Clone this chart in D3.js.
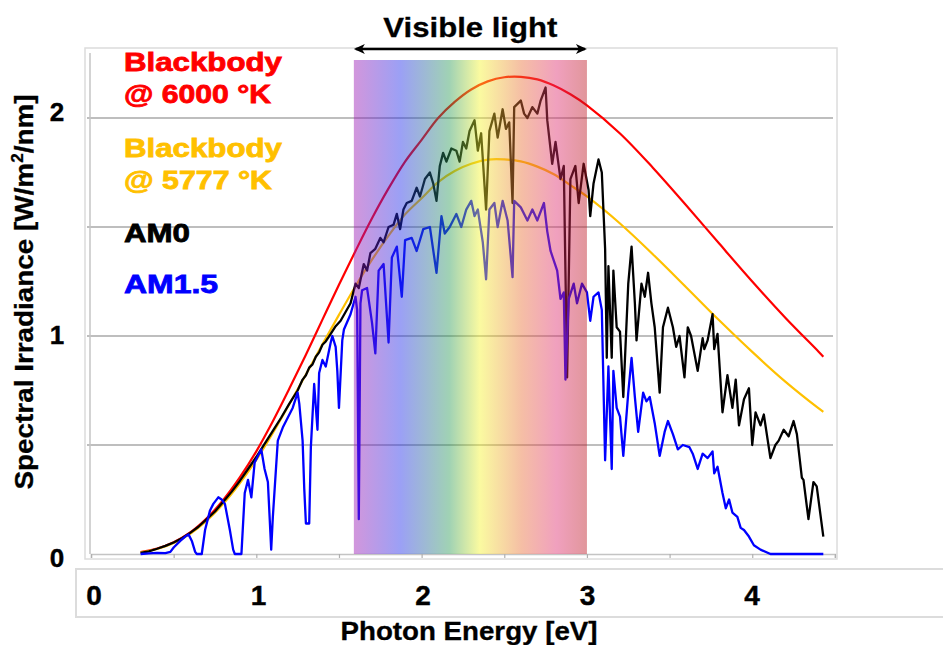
<!DOCTYPE html>
<html><head><meta charset="utf-8">
<script src="https://cdn.jsdelivr.net/npm/d3@7"></script>
<style>
html,body{margin:0;padding:0;background:#fff;}
svg{display:block;}
text{font-family:"Liberation Sans",Arial,sans-serif;font-weight:bold;}
</style></head><body>
<svg id="chart" width="943" height="645"></svg>
<script>
// ---------------- DATA ----------------
const bbEnergy = [0.3,0.4,0.5,0.6,0.7,0.8,0.9,1.0,1.1,1.2,1.3,1.4,1.5,1.6,1.7,1.8,1.9,2.0,2.1,2.2,2.3,2.4,2.5,2.6,2.7,2.8,2.9,3.0,3.2,3.4,3.6,3.8,4.0,4.2,4.4,4.43];
const bb6000 = [0.009,0.025,0.054,0.099,0.164,0.248,0.351,0.471,0.609,0.759,0.914,1.075,1.235,1.39,1.54,1.677,1.80,1.90,2.00,2.074,2.131,2.168,2.187,2.189,2.177,2.149,2.109,2.058,1.929,1.771,1.60,1.424,1.25,1.084,0.929,0.905];
const bb5777 = [0.008,0.023,0.051,0.093,0.153,0.230,0.324,0.432,0.555,0.688,0.823,0.962,1.097,1.228,1.35,1.46,1.558,1.632,1.706,1.757,1.790,1.809,1.810,1.801,1.777,1.742,1.692,1.640,1.516,1.374,1.224,1.072,0.927,0.791,0.669,0.652];

const am0Energy = [0.30,0.35,0.40,0.45,0.50,0.55,0.60,0.65,0.70,0.75,0.80,0.85,0.90,0.95,1.00,1.05,1.10,1.15,1.20,1.25,1.28,1.30,1.32,1.34,1.36,1.38,1.40,1.42,1.45,1.48,1.51,1.54,1.57,1.60,1.62,1.65,1.67,1.69,1.72,1.75,1.77,1.80,1.83,1.85,1.87,1.89,1.91,1.94,1.97,1.99,2.02,2.05,2.07,2.09,2.11,2.13,2.15,2.18,2.21,2.23,2.25,2.27,2.29,2.32,2.34,2.36,2.39,2.41,2.44,2.46,2.49,2.51,2.53,2.55,2.56,2.60,2.62,2.64,2.67,2.70,2.72,2.75,2.76,2.79,2.81,2.84,2.86,2.88,2.90,2.93,2.95,2.98,3.01,3.02,3.04,3.07,3.09,3.11,3.12,3.13,3.15,3.16,3.18,3.20,3.22,3.25,3.27,3.29,3.30,3.33,3.35,3.37,3.39,3.41,3.44,3.46,3.49,3.52,3.54,3.56,3.59,3.61,3.63,3.67,3.70,3.71,3.73,3.76,3.77,3.79,3.82,3.85,3.88,3.90,3.92,3.95,3.98,4.00,4.02,4.05,4.07,4.11,4.14,4.16,4.19,4.22,4.25,4.27,4.30,4.31,4.34,4.37,4.39,4.43];
const am0 = [0.005,0.012,0.024,0.037,0.053,0.072,0.097,0.125,0.160,0.195,0.240,0.285,0.335,0.390,0.445,0.505,0.565,0.625,0.690,0.750,0.800,0.820,0.855,0.870,0.905,0.925,0.960,0.975,1.010,1.045,1.070,1.110,1.150,1.240,1.220,1.330,1.300,1.380,1.400,1.450,1.430,1.500,1.510,1.560,1.490,1.580,1.610,1.620,1.680,1.640,1.720,1.750,1.700,1.620,1.780,1.840,1.800,1.860,1.850,1.800,1.890,1.860,1.940,1.990,1.850,1.930,1.580,1.940,2.020,1.910,2.040,1.950,1.980,1.610,2.050,2.080,2.020,2.000,2.050,2.020,2.080,2.140,1.990,1.790,1.890,1.720,1.780,0.810,1.720,1.780,1.610,1.790,1.670,1.550,1.700,1.810,1.750,1.400,0.900,1.320,0.900,1.300,1.040,1.020,0.720,1.240,1.410,1.150,0.980,1.240,1.180,1.290,1.150,1.040,0.740,1.040,1.130,1.040,0.950,1.000,0.810,1.040,1.000,0.840,0.990,0.940,0.980,1.100,0.940,1.010,0.650,0.820,0.670,0.800,0.590,0.710,0.760,0.500,0.650,0.590,0.640,0.440,0.500,0.520,0.570,0.540,0.610,0.550,0.350,0.340,0.160,0.330,0.310,0.080];

const am15Energy = [0.30,0.35,0.40,0.45,0.48,0.50,0.54,0.57,0.59,0.61,0.63,0.64,0.67,0.69,0.72,0.74,0.77,0.79,0.81,0.84,0.86,0.87,0.91,0.93,0.95,0.97,0.99,1.01,1.03,1.05,1.07,1.085,1.09,1.10,1.13,1.16,1.18,1.22,1.25,1.26,1.28,1.29,1.30,1.32,1.33,1.35,1.37,1.38,1.40,1.42,1.45,1.46,1.48,1.49,1.50,1.52,1.53,1.57,1.60,1.61,1.62,1.63,1.64,1.67,1.70,1.72,1.74,1.77,1.80,1.82,1.85,1.88,1.90,1.94,1.97,2.01,2.05,2.09,2.12,2.14,2.17,2.21,2.24,2.27,2.30,2.32,2.34,2.37,2.39,2.41,2.44,2.46,2.49,2.52,2.55,2.56,2.60,2.64,2.67,2.70,2.74,2.76,2.78,2.82,2.84,2.86,2.87,2.89,2.92,2.94,2.97,3.00,3.02,3.04,3.07,3.09,3.11,3.13,3.15,3.16,3.18,3.20,3.22,3.25,3.27,3.29,3.31,3.34,3.36,3.38,3.41,3.44,3.47,3.49,3.52,3.55,3.58,3.62,3.64,3.67,3.70,3.73,3.76,3.77,3.79,3.82,3.84,3.86,3.88,3.91,3.93,3.95,3.98,4.01,4.05,4.11,4.43];
const am15 = [0.000,0.003,0.005,0.004,0.010,0.030,0.060,0.080,0.090,0.060,0.010,0.000,0.000,0.110,0.200,0.230,0.260,0.250,0.230,0.110,0.020,0.000,0.000,0.280,0.340,0.260,0.420,0.450,0.480,0.390,0.330,0.100,0.020,0.170,0.520,0.580,0.610,0.670,0.740,0.690,0.520,0.300,0.140,0.140,0.490,0.780,0.570,0.830,0.890,0.860,0.970,1.000,0.950,0.840,0.670,0.980,1.030,1.100,1.180,1.120,0.160,1.150,1.210,1.220,1.060,0.920,1.300,1.330,0.970,1.360,1.410,1.180,1.440,1.450,1.390,1.490,1.500,1.290,1.550,1.470,1.500,1.560,1.500,1.580,1.620,1.550,1.580,1.430,1.260,1.580,1.610,1.500,1.620,1.530,1.270,1.620,1.590,1.530,1.580,1.530,1.610,1.480,1.390,1.300,1.170,1.200,0.800,1.170,1.240,1.150,1.240,1.200,1.070,1.180,1.200,1.120,0.430,0.860,0.390,0.840,0.670,0.630,0.450,0.740,0.900,0.720,0.560,0.740,0.700,0.720,0.600,0.450,0.560,0.610,0.550,0.480,0.500,0.490,0.460,0.390,0.460,0.440,0.470,0.370,0.400,0.280,0.210,0.250,0.190,0.170,0.120,0.110,0.080,0.040,0.020,0.000,0.000];

const gridValues = [0.5, 1, 1.5, 2];
const yTickLabels = [0, 1, 2];
const xMinorTicks = [0, 0.5, 1, 1.5, 2, 2.5, 3, 3.5, 4, 4.5];
const xTickLabels = [0, 1, 2, 3, 4];
const visibleRange = [1.59, 3.0];
const legendLines = ["Blackbody", "@ 6000 °K", "Blackbody", "@ 5777 °K", "AM0", "AM1.5"];
const titleText = "Visible light";
const xTitle = "Photon Energy [eV]";

// ---------------- DRAW ----------------
const svg = d3.select("#chart");

const x = d3.scaleLinear().domain([0, 4.5]).range([91, 834.9]);
const y = d3.scaleLinear().domain([0, 2.3]).range([554, 52.6]);
const xLab = d3.scaleLinear().domain([0, 4]).range([94, 752]);
const yLab = d3.scaleLinear().domain([0, 2]).range([567, 121]);

// outer plot frame
svg.append("rect").attr("x", 85).attr("y", 48).attr("width", 752).attr("height", 511)
  .attr("fill", "none").attr("stroke", "#dcdcdc").attr("stroke-width", 1.5);

// gridlines
svg.append("g").selectAll("line").data(gridValues).join("line")
  .attr("x1", 87).attr("x2", 833)
  .attr("y1", d => y(d)).attr("y2", d => y(d))
  .attr("stroke", "#a8a8a8").attr("stroke-width", 1.3);

// inner axes
svg.append("line").attr("x1", 90).attr("x2", 90).attr("y1", 53).attr("y2", y(0))
  .attr("stroke", "#c4c4c4").attr("stroke-width", 1.5);
const xAxis = d3.axisBottom(x).tickValues(xMinorTicks).tickSize(4).tickFormat("");
const gx = svg.append("g").attr("transform", `translate(0,${y(0)})`).call(xAxis);
gx.select(".domain").attr("stroke", "#c4c4c4").attr("stroke-width", 1.5);
gx.selectAll(".tick line").attr("stroke", "#b0b0b0").attr("stroke-width", 1.2);

// y tick labels
svg.append("g").selectAll("text").data(yTickLabels).join("text")
  .attr("x", 57).attr("y", d => yLab(d)).attr("text-anchor", "middle")
  .attr("font-size", 26).attr("fill", "#000").attr("stroke", "#000").attr("stroke-width", 0.4)
  .text(d => d);

// curves
const line = (xs, ys, curve) => d3.line().x((d, i) => x(xs[i])).y(d => y(d)).curve(curve)(ys);
const curves = [
  {xs: bbEnergy, ys: bb6000, color: "#ff0000", curve: d3.curveCatmullRom, w: 2.2},
  {xs: bbEnergy, ys: bb5777, color: "#ffc000", curve: d3.curveCatmullRom, w: 2.2},
  {xs: am0Energy, ys: am0, color: "#000000", curve: d3.curveLinear, w: 2.3},
  {xs: am15Energy, ys: am15, color: "#0000ff", curve: d3.curveLinear, w: 2.3}
];
svg.append("g").selectAll("path").data(curves).join("path")
  .attr("d", c => line(c.xs, c.ys, c.curve))
  .attr("fill", "none").attr("stroke", c => c.color).attr("stroke-width", c => c.w)
  .attr("stroke-linejoin", "round");

// visible band (semi-transparent overlay)
const defs = svg.append("defs");
const grad = defs.append("linearGradient").attr("id", "vis").attr("x1", "0%").attr("x2", "100%");
const stops = [[0, "#9b16b1"], [0.2, "#212ce9"], [0.41, "#2c9b58"], [0.54, "#f4f42c"], [0.72, "#e96f37"], [0.87, "#de2c6f"], [1, "#bc1621"]];
stops.forEach(s => grad.append("stop").attr("offset", s[0]).attr("stop-color", s[1]));
svg.append("rect").attr("x", x(visibleRange[0])).attr("y", 60)
  .attr("width", x(visibleRange[1]) - x(visibleRange[0])).attr("height", y(0) - 60)
  .attr("fill", "url(#vis)").attr("opacity", 0.45);

// arrow
const ay = 49;
const x0 = x(visibleRange[0]), x1 = x(visibleRange[1]);
svg.append("line").attr("x1", x0 + 2).attr("x2", x1 - 2).attr("y1", ay).attr("y2", ay)
  .attr("stroke", "#000").attr("stroke-width", 2.5);
svg.append("path").attr("d", `M${x0},${ay} L${x0 + 11},${ay - 5} L${x0 + 8},${ay} L${x0 + 11},${ay + 5} Z`).attr("fill", "#000");
svg.append("path").attr("d", `M${x1},${ay} L${x1 - 11},${ay - 5} L${x1 - 8},${ay} L${x1 - 11},${ay + 5} Z`).attr("fill", "#000");
svg.append("text").attr("x", (x0 + x1) / 2).attr("y", 37).attr("text-anchor", "middle")
  .attr("font-size", 28).attr("textLength", 174).attr("lengthAdjust", "spacingAndGlyphs")
  .attr("fill", "#000").attr("stroke", "#000").attr("stroke-width", 0.3).text(titleText);

// legend
const legColors = ["#ff0000", "#ff0000", "#ffc000", "#ffc000", "#000000", "#0000ff"];
const legY = [71, 103, 157, 189, 242, 293];
const legW = [158, 147, 158, 148, 66, 94];
svg.append("g").selectAll("text").data(legendLines).join("text")
  .attr("x", 124).attr("y", (d, i) => legY[i])
  .attr("font-size", 25.5).attr("fill", (d, i) => legColors[i])
  .attr("stroke", (d, i) => legColors[i]).attr("stroke-width", 0.8)
  .attr("textLength", (d, i) => legW[i]).attr("lengthAdjust", "spacingAndGlyphs")
  .text(d => d);

// lower axis band
svg.append("path").attr("d", "M943,569 H76 V617 H943")
  .attr("fill", "none").attr("stroke", "#dcdcdc").attr("stroke-width", 2);
svg.append("g").selectAll("text").data(xTickLabels).join("text")
  .attr("x", d => xLab(d)).attr("y", 605).attr("text-anchor", "middle")
  .attr("font-size", 28).attr("fill", "#000").attr("stroke", "#000").attr("stroke-width", 0.4)
  .text(d => d);

// axis titles
svg.append("text").attr("x", 469).attr("y", 640).attr("text-anchor", "middle")
  .attr("font-size", 26).attr("textLength", 257).attr("lengthAdjust", "spacingAndGlyphs")
  .attr("fill", "#000").attr("stroke", "#000").attr("stroke-width", 0.3).text(xTitle);

const yt = svg.append("text").attr("transform", "translate(33,292) rotate(-90)")
  .attr("text-anchor", "middle").attr("font-size", 26)
  .attr("textLength", 395).attr("lengthAdjust", "spacingAndGlyphs")
  .attr("fill", "#000").attr("stroke", "#000").attr("stroke-width", 0.3);
yt.append("tspan").text("Spectral Irradiance [W/m");
yt.append("tspan").attr("font-size", 16).attr("dy", -10).text("2");
yt.append("tspan").attr("dy", 10).text("/nm]");
</script>
</body></html>
